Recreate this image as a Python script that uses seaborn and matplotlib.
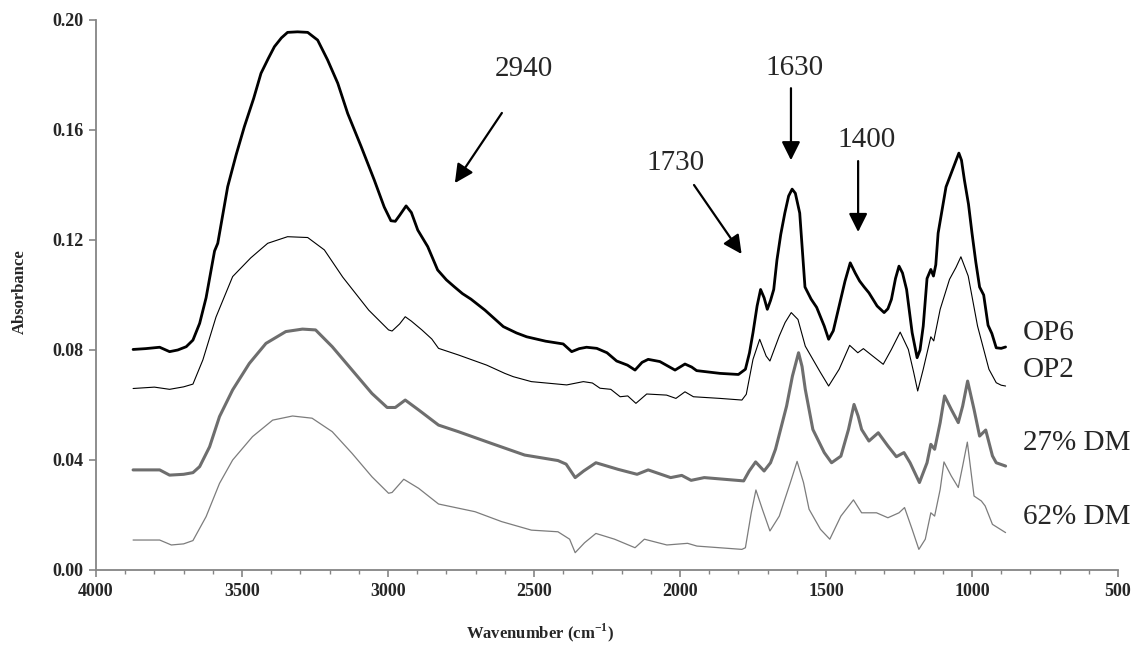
import matplotlib
matplotlib.use("Agg")
import matplotlib.pyplot as plt
import numpy as np
import pandas as pd
import seaborn as sns

# FTIR spectra (wavenumber cm-1, absorbance)
op6_wn = [3873, 3830, 3782, 3748, 3720, 3691, 3668, 3645, 3623, 3594, 3583, 3549, 3520, 3492,
          3460, 3435, 3410, 3389, 3365, 3344, 3310, 3275, 3241, 3207, 3172, 3138, 3092, 3047,
          3013, 2990, 2975, 2960, 2938, 2920, 2898, 2864, 2830, 2800, 2773, 2745, 2716, 2668,
          2605, 2560, 2525, 2460, 2400, 2371, 2345, 2320, 2285, 2250, 2217, 2180, 2154, 2130,
          2109, 2069, 2032, 2017, 1983, 1960, 1943, 1863, 1800, 1776, 1762, 1750, 1736, 1724,
          1712, 1701, 1690, 1679, 1668, 1655, 1641, 1628, 1616, 1605, 1590, 1580, 1572, 1551,
          1532, 1506, 1491, 1475, 1455, 1435, 1417, 1400, 1385, 1370, 1353, 1325, 1301, 1288,
          1276, 1262, 1250, 1238, 1224, 1205, 1188, 1178, 1167, 1154, 1141, 1132, 1124, 1116,
          1089, 1071, 1058, 1045, 1036, 1026, 1012, 1000, 987, 974, 960, 945, 932, 917, 900, 885]
op6_abs = [0.0802, 0.0805, 0.0810, 0.0794, 0.0800, 0.0812, 0.0836, 0.0897, 0.0990, 0.1160, 0.1188,
           0.1394, 0.1510, 0.1612, 0.1715, 0.1806, 0.1860, 0.1903, 0.1935, 0.1955, 0.1957, 0.1955,
           0.1927, 0.1855, 0.1770, 0.1660, 0.1540, 0.1418, 0.1320, 0.1270, 0.1268, 0.1290, 0.1324,
           0.1300, 0.1236, 0.1176, 0.1091, 0.1055, 0.1030, 0.1005, 0.0985, 0.0945, 0.0885, 0.0862,
           0.0848, 0.0832, 0.0822, 0.0794, 0.0805, 0.0810, 0.0806, 0.0790, 0.0760, 0.0745, 0.0727,
           0.0755, 0.0766, 0.0758, 0.0736, 0.0727, 0.0749, 0.0738, 0.0725, 0.0715, 0.0711, 0.0730,
           0.0790, 0.0863, 0.0960, 0.1020, 0.0990, 0.0948, 0.0980, 0.1020, 0.1127, 0.1220, 0.1298,
           0.1360, 0.1385, 0.1370, 0.1298, 0.1150, 0.1029, 0.0985, 0.0955, 0.0887, 0.0839, 0.0870,
           0.0960, 0.1050, 0.1117, 0.1080, 0.1051, 0.1030, 0.1008, 0.0960, 0.0936, 0.0950, 0.0984,
           0.1060, 0.1105, 0.1080, 0.1020, 0.0863, 0.0772, 0.0800, 0.0887, 0.1060, 0.1093, 0.1069,
           0.1110, 0.1225, 0.1393, 0.1443, 0.1480, 0.1516, 0.1490, 0.1418, 0.1330, 0.1225, 0.1120,
           0.1029, 0.1000, 0.0890, 0.0860, 0.0808, 0.0806, 0.0811]

op2_wn = [3873, 3800, 3748, 3700, 3668, 3634, 3589, 3532, 3470, 3412, 3344, 3275, 3218, 3155,
          3066, 2998, 2986, 2960, 2941, 2920, 2884, 2850, 2827, 2759, 2662, 2600, 2571, 2509,
          2418, 2388, 2331, 2300, 2274, 2237, 2205, 2179, 2151, 2114, 2046, 2014, 1983, 1954,
          1863, 1788, 1773, 1750, 1727, 1705, 1692, 1660, 1640, 1619, 1596, 1571, 1545, 1520,
          1491, 1455, 1419, 1391, 1372, 1340, 1304, 1276, 1246, 1218, 1200, 1186, 1167, 1141,
          1131, 1109, 1077, 1055, 1038, 1013, 981, 942, 917, 900, 885]
op2_abs = [0.0660, 0.0665, 0.0657, 0.0666, 0.0676, 0.0764, 0.0920, 0.1067, 0.1135, 0.1188, 0.1212,
           0.1209, 0.1164, 0.1065, 0.0945, 0.0873, 0.0869, 0.0895, 0.0921, 0.0905, 0.0873, 0.0840,
           0.0806, 0.0782, 0.0745, 0.0715, 0.0703, 0.0685, 0.0676, 0.0673, 0.0685, 0.0680, 0.0661,
           0.0657, 0.0630, 0.0633, 0.0606, 0.0640, 0.0636, 0.0624, 0.0648, 0.0630, 0.0624, 0.0618,
           0.0639, 0.0766, 0.0839, 0.0778, 0.0760, 0.0851, 0.0900, 0.0936, 0.0911, 0.0814, 0.0766,
           0.0720, 0.0669, 0.0730, 0.0817, 0.0790, 0.0805, 0.0778, 0.0748, 0.0802, 0.0865, 0.0802,
           0.0720, 0.0651, 0.0730, 0.0848, 0.0833, 0.0948, 0.1057, 0.1100, 0.1139, 0.1069, 0.0887,
           0.0730, 0.0681, 0.0672, 0.0669]

dm27_wn = [3873, 3782, 3748, 3700, 3668, 3645, 3611, 3577, 3532, 3475, 3418, 3350, 3293, 3248,
           3191, 3123, 3055, 3003, 2975, 2941, 2895, 2827, 2759, 2645, 2532, 2418, 2390, 2359,
           2330, 2288, 2212, 2147, 2109, 2032, 1994, 1962, 1917, 1782, 1763, 1741, 1712, 1690,
           1673, 1635, 1615, 1594, 1582, 1571, 1545, 1506, 1481, 1449, 1423, 1404, 1390, 1378,
           1353, 1321, 1288, 1259, 1233, 1212, 1180, 1154, 1141, 1128, 1109, 1094, 1071, 1047,
           1032, 1015, 993, 974, 953, 930, 917, 885]
dm27_abs = [0.0364, 0.0364, 0.0345, 0.0348, 0.0354, 0.0376, 0.0448, 0.0558, 0.0655, 0.0751, 0.0824,
            0.0867, 0.0876, 0.0873, 0.0812, 0.0727, 0.0642, 0.0591, 0.0591, 0.0618, 0.0582, 0.0527,
            0.0503, 0.0460, 0.0418, 0.0398, 0.0385, 0.0336, 0.0360, 0.0390, 0.0366, 0.0348, 0.0364,
            0.0336, 0.0344, 0.0326, 0.0336, 0.0324, 0.0360, 0.0393, 0.0360, 0.0390, 0.0439, 0.0596,
            0.0705, 0.0790, 0.0740, 0.0657, 0.0511, 0.0427, 0.0390, 0.0414, 0.0511, 0.0602, 0.0560,
            0.0511, 0.0469, 0.0499, 0.0451, 0.0412, 0.0427, 0.0390, 0.0318, 0.0390, 0.0457, 0.0439,
            0.0536, 0.0633, 0.0584, 0.0536, 0.0596, 0.0687, 0.0584, 0.0487, 0.0509, 0.0415, 0.0390,
            0.0378]

dm62_wn = [3873, 3782, 3742, 3700, 3668, 3623, 3577, 3532, 3464, 3395, 3327, 3260, 3191, 3123,
           3055, 2998, 2986, 2946, 2895, 2827, 2702, 2611, 2509, 2418, 2378, 2359, 2327, 2288,
           2224, 2154, 2122, 2045, 1974, 1942, 1788, 1776, 1756, 1740, 1718, 1692, 1660, 1622,
           1599, 1577, 1558, 1519, 1487, 1449, 1406, 1378, 1327, 1288, 1250, 1231, 1205, 1182,
           1160, 1141, 1128, 1109, 1096, 1071, 1047, 1032, 1016, 993, 968, 955, 930, 885]
dm62_abs = [0.0109, 0.0109, 0.0091, 0.0095, 0.0107, 0.0194, 0.0315, 0.0400, 0.0485, 0.0545, 0.0560,
            0.0552, 0.0503, 0.0424, 0.0339, 0.0279, 0.0282, 0.0330, 0.0297, 0.0240, 0.0212, 0.0176,
            0.0145, 0.0139, 0.0112, 0.0063, 0.0099, 0.0133, 0.0112, 0.0081, 0.0112, 0.0091, 0.0097,
            0.0087, 0.0075, 0.0081, 0.0208, 0.0291, 0.0221, 0.0142, 0.0196, 0.0318, 0.0395, 0.0318,
            0.0221, 0.0148, 0.0112, 0.0196, 0.0255, 0.0208, 0.0208, 0.0190, 0.0208, 0.0227, 0.0148,
            0.0075, 0.0112, 0.0208, 0.0196, 0.0293, 0.0393, 0.0342, 0.0300, 0.0378, 0.0465, 0.0269,
            0.0251, 0.0233, 0.0166, 0.0136]

series_names = ["OP6", "OP2", "27% DM", "62% DM"]
series_colors = ["#000000", "#000000", "#6e6e6e", "#7c7c7c"]
series_widths = [2.0, 0.8, 2.2, 0.9]
label_y = [0.0862, 0.0727, 0.0461, 0.0194]

peak_labels = ["2940", "1630", "1400", "1730"]
peak_text_pos = [(2534, 0.182), (1609, 0.1825), (1360, 0.1563), (2017, 0.148)]
peak_arrow_from = [(2610, 0.1662), (1620, 0.1752), (1390, 0.1487), (1952, 0.140)]
peak_arrow_to = [(2771, 0.1407), (1620, 0.149), (1390, 0.1229), (1789, 0.1149)]

frames = []
for name, wn, ab in zip(series_names,
                        [op6_wn, op2_wn, dm27_wn, dm62_wn],
                        [op6_abs, op2_abs, dm27_abs, dm62_abs]):
    frames.append(pd.DataFrame({"wn": wn, "abs": ab, "sample": name}))
df = pd.concat(frames, ignore_index=True)

sns.set_style("ticks")
plt.rcParams['font.family'] = ['Liberation Serif', 'DejaVu Serif']
plt.rcParams['mathtext.fontset'] = 'custom'
plt.rcParams['mathtext.rm'] = 'Liberation Serif'
plt.rcParams['mathtext.bf'] = 'Liberation Serif:bold'

W, H = 1146, 666
fig = plt.figure(figsize=(W / 100, H / 100), dpi=100)
ax = fig.add_axes([96 / W, 1 - 570 / H, (1118 - 96) / W, (570 - 20) / H])

for name, col, lw in zip(series_names, series_colors, series_widths):
    sns.lineplot(data=df[df["sample"] == name], x="wn", y="abs", color=col,
                 linewidth=lw, estimator=None, sort=False, ax=ax, legend=False)

ax.set_xlim(4000, 500)
ax.set_ylim(0, 0.20)
ax.set_xticks(np.arange(4000, 499, -500))
ax.set_xticks(np.arange(4000, 499, -100), minor=True)
ax.set_yticks(np.arange(0, 0.201, 0.04))
ax.set_yticklabels([f"{v:.2f}" for v in np.arange(0, 0.201, 0.04)])
ax.set_xlabel("")
ax.set_ylabel("")

for s in ["top", "right"]:
    ax.spines[s].set_visible(False)
for s in ["left", "bottom"]:
    ax.spines[s].set_color("#858585")
    ax.spines[s].set_linewidth(1.3)
ax.tick_params(axis="both", which="major", length=5, width=1.2, color="#858585",
               labelsize=13, pad=4)
ax.tick_params(axis="x", which="minor", length=3, width=1.0, color="#858585")
for lab in ax.get_xticklabels() + ax.get_yticklabels():
    lab.set_fontweight("bold")

fig.text(540 / W, 1 - 633 / H, "Wavenumber (cm$^{\\mathbf{-1}}$)", ha="center", va="center",
         fontsize=12, fontweight="bold")
fig.text(20 / W, 1 - 292 / H, "Absorbance", ha="center", va="center", rotation=90,
         fontsize=12, fontweight="bold")

for name, y in zip(series_names, label_y):
    ax.text(827, y, name, ha="left", va="center", fontsize=21)

for lab, tp, af, at in zip(peak_labels, peak_text_pos, peak_arrow_from, peak_arrow_to):
    ax.text(tp[0], tp[1], lab, ha="center", va="center", fontsize=21)
    ax.annotate("", xy=at, xytext=af,
                arrowprops=dict(arrowstyle="-|>,head_length=0.8,head_width=0.4",
                                color="black", lw=1.6, mutation_scale=14,
                                shrinkA=0, shrinkB=0))

fig.savefig("out.png", dpi=100)
